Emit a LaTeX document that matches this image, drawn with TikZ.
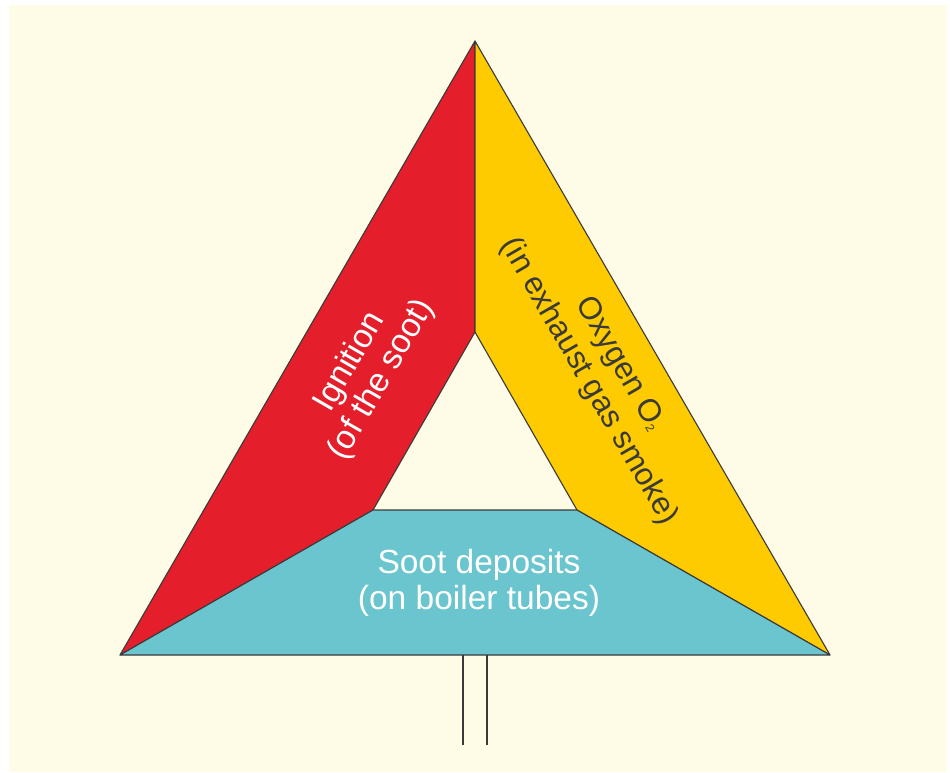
\documentclass[tikz,border=0pt]{standalone}
\usepackage{fontspec}
\setmainfont{Liberation Sans}
\definecolor{ignred}{RGB}{228,31,43}
\definecolor{oxyyel}{RGB}{254,203,0}
\definecolor{sootblu}{RGB}{106,197,207}
\definecolor{paper}{RGB}{254,251,230}
\definecolor{edge}{RGB}{58,58,58}

\begin{document}
\begin{tikzpicture}[x=1pt,y=-1pt,line join=round]
        \tikzset{side/.style={draw=edge,line width=1.1pt},
                 lbl/.style={font=\fontsize{33.5}{36}\selectfont,align=center}}
        \useasboundingbox (0,0) rectangle (950,772);
        \fill [fill=paper] (9,5) rectangle (947,772);

        % Outer and inner corners
        \coordinate (top) at (475,41);
        \coordinate (left) at (120,655);
        \coordinate (right) at (830,655);
        \coordinate (itop) at (475,332);
        \coordinate (ileft) at (373,510);
        \coordinate (iright) at (577,510);

        % Three sides
        \filldraw[side,fill=ignred] (top) -- (itop) -- (ileft) -- (left) -- cycle;
        \filldraw[side,fill=oxyyel] (top) -- (right) -- (iright) -- (itop) -- cycle;
        \filldraw[side,fill=sootblu] (left) -- (ileft) -- (iright) -- (right) -- cycle;

        % Stem
        \coordinate (stemA) at (463,655);
        \coordinate (stemAend) at (463,745);
        \coordinate (stemB) at (487,655);
        \coordinate (stemBend) at (487,745);
        \draw[side] (stemA) -- (stemAend);
        \draw[side] (stemB) -- (stemBend);

        \node[lbl,text=white,rotate=60] (ignition) at (366,371) {Ignition\\(of the soot)};
        \node[lbl,text=edge,rotate=-60,font=\fontsize{31.5}{36}\selectfont] (oxygen) at (604,373)
            {Oxygen O\raisebox{-2pt}{\fontsize{12}{12}\selectfont 2}\\(in exhaust gas smoke)};
        \node[lbl,text=white] (soot) at (479,583) {Soot deposits\\(on boiler tubes)};
    \end{tikzpicture}
\end{document}
